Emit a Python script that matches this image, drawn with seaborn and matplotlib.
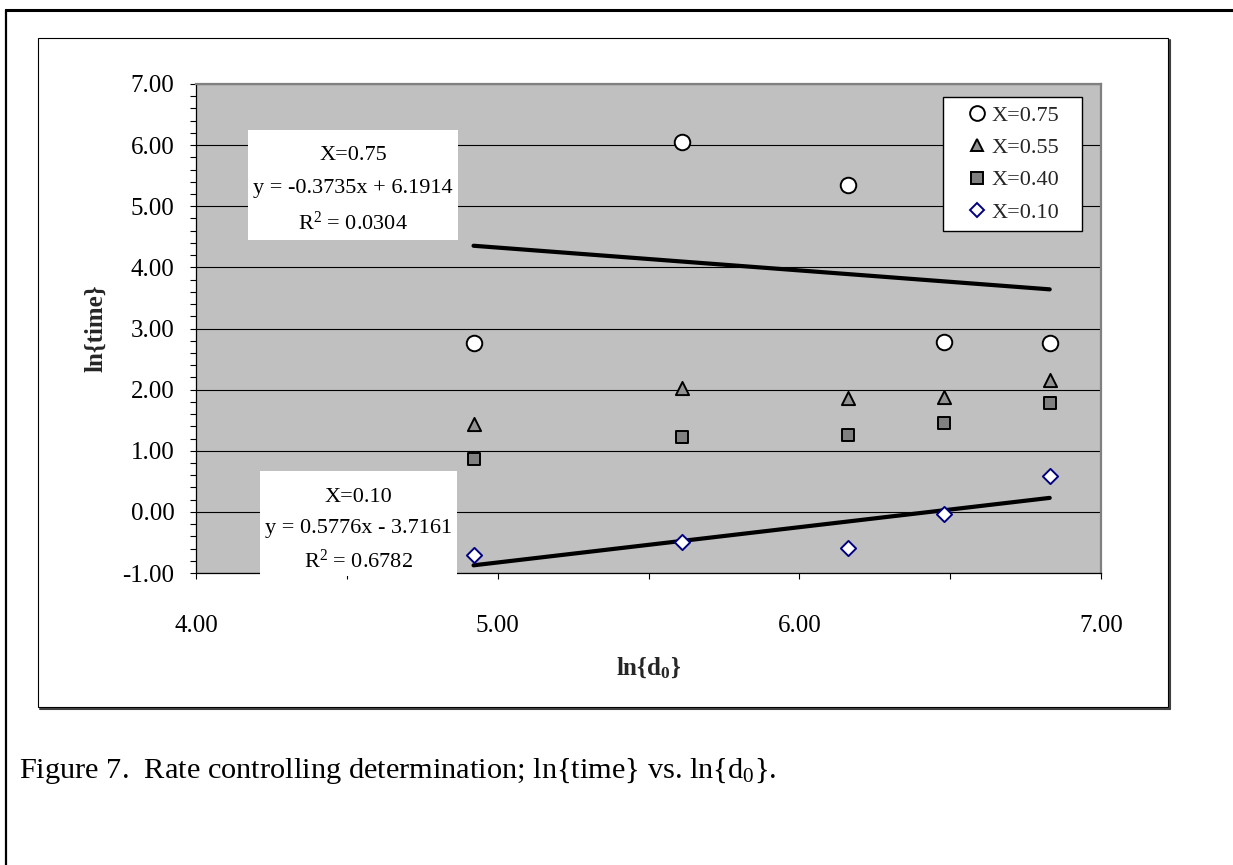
import numpy as np
import pandas as pd
import matplotlib
matplotlib.use("Agg")
import matplotlib.pyplot as plt
from matplotlib.patches import Rectangle
from matplotlib.lines import Line2D
from matplotlib.ticker import MultipleLocator, FormatStrFormatter
import seaborn as sns

# ln{d0} positions shared by all series
ln_d0 = [4.92, 5.61, 6.16, 6.48, 6.83]

# ln{time} for each conversion level X
series_labels = ["X=0.75", "X=0.55", "X=0.40", "X=0.10"]
ln_time_075 = [2.77, 6.05, 5.34, 2.78, 2.77]
ln_time_055 = [1.43, 2.02, 1.87, 1.88, 2.15]
ln_time_040 = [0.87, 1.22, 1.26, 1.46, 1.78]
ln_time_010 = [-0.71, -0.50, -0.59, -0.04, 0.58]

# linear trend fits (slope, intercept, R^2)
fit_labels = ["X=0.75", "X=0.10"]
fit_slopes = [-0.3735, 0.5776]
fit_intercepts = [6.1914, -3.7161]
fit_r2 = [0.0304, 0.6782]

x_ticks = [4.0, 5.0, 6.0, 7.0]
y_ticks = [-1.0, 0.0, 1.0, 2.0, 3.0, 4.0, 5.0, 6.0, 7.0]

sns.set_theme(style="white")
plt.rcParams["font.family"] = ["Liberation Serif", "DejaVu Serif"]
plt.rcParams["mathtext.fontset"] = "custom"
plt.rcParams["mathtext.rm"] = "Liberation Serif"
plt.rcParams["mathtext.it"] = "Liberation Serif:italic"
plt.rcParams["mathtext.bf"] = "Liberation Serif:bold"
plt.rcParams["axes.unicode_minus"] = False

W, H = 1233, 865
fig = plt.figure(figsize=(W / 100, H / 100), dpi=100)
fig.patch.set_facecolor("white")


def fx(px):
    return px / W


def fy(py):
    return 1 - py / H


# page border (top and left rules)
fig.add_artist(Line2D([fx(6), fx(1233)], [fy(10), fy(10)], color="black", lw=2.2,
                      transform=fig.transFigure))
fig.add_artist(Line2D([fx(6), fx(6)], [fy(10), fy(865)], color="black", lw=1.6,
                      transform=fig.transFigure))

# chart frame with a small drop shadow
fig.add_artist(Line2D([fx(40), fx(1170)], [fy(709), fy(709)], color="#404040", lw=1.5,
                      transform=fig.transFigure))
fig.add_artist(Line2D([fx(1170), fx(1170)], [fy(40), fy(709)], color="#404040", lw=1.5,
                      transform=fig.transFigure))
fig.add_artist(Rectangle((fx(38), fy(707)), fx(1168) - fx(38), fy(38) - fy(707),
                         transform=fig.transFigure, facecolor="white", edgecolor="black",
                         lw=0.8, zorder=0.5))

ax_left, ax_right, ax_top, ax_bottom = 196, 1101, 84, 573
ax = fig.add_axes([fx(ax_left), fy(ax_bottom), (ax_right - ax_left) / W,
                   (ax_bottom - ax_top) / H])
ax.set_zorder(1)
ax.set_facecolor("#C0C0C0")

ax.set_xlim(x_ticks[0], x_ticks[-1])
ax.set_ylim(y_ticks[0], y_ticks[-1])
ax.set_xticks(x_ticks)
ax.set_yticks(y_ticks)
ax.xaxis.set_minor_locator(MultipleLocator(0.5))
ax.yaxis.set_minor_locator(MultipleLocator(0.2))
ax.xaxis.set_major_formatter(FormatStrFormatter("%.2f"))
ax.yaxis.set_major_formatter(FormatStrFormatter("%.2f"))
ax.tick_params(axis="both", which="major", direction="out", length=4.5, width=0.8,
               color="black", labelsize=18, labelcolor="black", bottom=True, left=True)
ax.tick_params(axis="both", which="minor", direction="out", length=4.0, width=0.8,
               color="black", bottom=True, left=True)
ax.tick_params(axis="x", which="major", pad=26)
ax.tick_params(axis="y", which="major", pad=11)

ax.yaxis.grid(True, which="major", color="black", lw=0.8)
ax.xaxis.grid(False)
ax.set_axisbelow(True)

for side in ["left", "bottom"]:
    ax.spines[side].set_color("black")
    ax.spines[side].set_linewidth(0.9)
for side in ["top", "right"]:
    ax.spines[side].set_color("#808080")
    ax.spines[side].set_linewidth(1.6)

# scatter series
styles = [
    (ln_time_075, "o", "white", "black", 125),
    (ln_time_055, "^", "#929292", "black", 90),
    (ln_time_040, "s", "#808080", "black", 85),
    (ln_time_010, "D", "white", "#000080", 60),
]
handles = []
for label, (vals, mk, fc, ec, size) in zip(series_labels, styles):
    df = pd.DataFrame({"ln_d0": ln_d0, "ln_time": vals})
    sns.scatterplot(data=df, x="ln_d0", y="ln_time", marker=mk, s=size, color=fc,
                    edgecolor=ec, linewidth=1.4, ax=ax, zorder=4, legend=False)
    handles.append(Line2D([], [], ls="", marker=mk, markersize=np.sqrt(size) * 0.95,
                          markerfacecolor=fc, markeredgecolor=ec, markeredgewidth=1.4,
                          label=label))

# trend lines from the fitted coefficients
for label, m, b in zip(fit_labels, fit_slopes, fit_intercepts):
    xs = np.array([min(ln_d0), max(ln_d0)])
    sns.lineplot(x=xs, y=m * xs + b, color="black", lw=3.0, ax=ax, zorder=3)

ax.set_xlabel("ln{d$_{\\mathbf{0}}$}", fontsize=18, fontweight="bold", va="center")
ax.set_ylabel("ln{time}", fontsize=18, fontweight="bold", va="center")
ax.xaxis.set_label_coords(0.5, -(668 - ax_bottom) / (ax_bottom - ax_top))
ax.yaxis.set_label_coords(-(ax_left - 96) / (ax_right - ax_left), 0.5)

leg_x0, leg_x1, leg_y0 = 943, 1082, 97
leg = ax.legend(handles=handles, loc="upper left",
                bbox_to_anchor=((leg_x0 - ax_left) / (ax_right - ax_left),
                                1 - (leg_y0 - ax_top) / (ax_bottom - ax_top),
                                (leg_x1 - leg_x0) / (ax_right - ax_left), 0.0),
                mode="expand", borderaxespad=0, frameon=True, fancybox=False,
                edgecolor="black", framealpha=1, fontsize=16, borderpad=0.37,
                handlelength=2.3, handletextpad=-0.5, labelspacing=0.53)
leg.get_frame().set_linewidth(1.0)
leg.set_zorder(6)

# fit annotation boxes
boxes = [
    ((248, 130, 458, 240), (155, 189, 223)),
    ((260, 471, 457, 576), (497, 529, 561)),
]
for ((x0, y0, x1, y1), rows), label, m, b, r2 in zip(
        boxes, fit_labels, fit_slopes, fit_intercepts, fit_r2):
    fig.add_artist(Rectangle((fx(x0), fy(y1)), fx(x1) - fx(x0), fy(y0) - fy(y1),
                             transform=fig.transFigure, facecolor="white",
                             edgecolor="none", zorder=5))
    sign = "+" if b >= 0 else "-"
    lines = [label, f"y = {m:.4f}x {sign} {abs(b):.4f}", f"R$^{{2}}$ = {r2:.4f}"]
    cx = (x0 + x1) / 2
    for txt, ry in zip(lines, rows):
        fig.text(fx(cx), fy(ry), txt, ha="center", va="center", fontsize=16,
                 color="black", zorder=6)

fig.text(fx(19), fy(771),
         "Figure 7.  Rate controlling determination; ln{time} vs. ln{d$_0$}.",
         ha="left", va="center", fontsize=21.9, color="black")

fig.savefig("out.png", dpi=100, facecolor="white")
